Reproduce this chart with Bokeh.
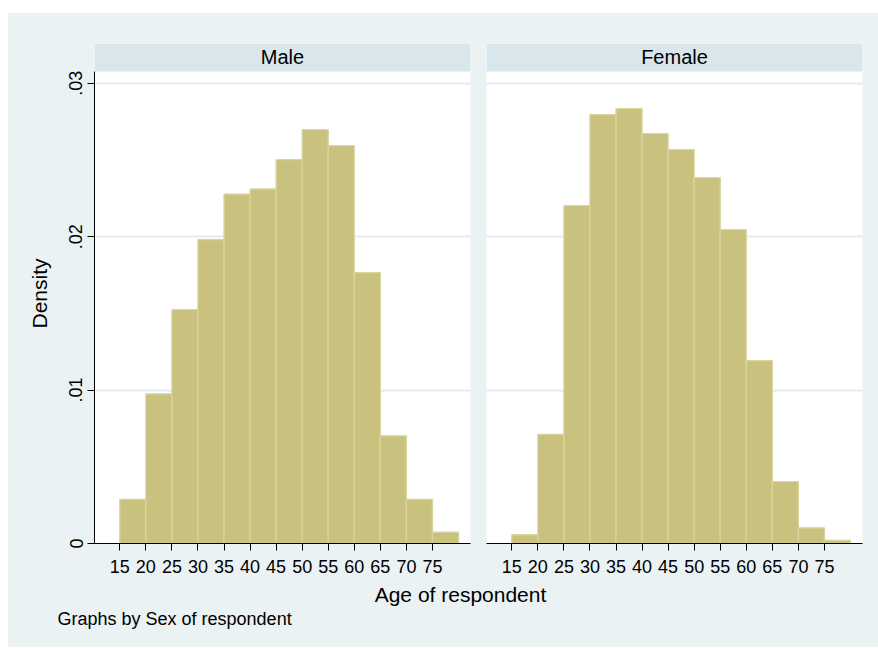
from bokeh.plotting import figure
from bokeh.models import FixedTicker, Range1d, BoxAnnotation, Label, Grid
from bokeh.layouts import row, column
from bokeh.embed import file_html
from bokeh.resources import INLINE

# ---- data ----
bin_left = [15, 20, 25, 30, 35, 40, 45, 50, 55, 60, 65, 70, 75]
bin_right = [20, 25, 30, 35, 40, 45, 50, 55, 60, 65, 70, 75, 80]
male_density = [0.00287, 0.00976, 0.01524, 0.01981, 0.02278, 0.02311, 0.02502,
                 0.02698, 0.02594, 0.01766, 0.00702, 0.00287, 0.00074]
female_density = [0.00057, 0.00711, 0.02202, 0.02796, 0.02835, 0.02672, 0.02568,
                  0.02385, 0.02046, 0.01192, 0.00404, 0.00102, 0.00020]
x_ticks = [15, 20, 25, 30, 35, 40, 45, 50, 55, 60, 65, 70, 75]
y_ticks = [0, 0.01, 0.02, 0.03]
y_tick_labels = {0: "0", 0.01: ".01", 0.02: ".02", 0.03: ".03"}
panel_names = ["Male", "Female"]

# ---- style ----
FONT = "Liberation Sans"
BG = "#eaf2f3"
STRIP = "#d9e6eb"
GRID = "#e3ecf0"
BAR_FILL = "#c9c27e"
BAR_LINE = "#d9d49e"

X0, X1 = 10.15, 82.3
Y_TOP = 0.032595
STRIP_BOTTOM = 0.03077


def panel(name, dens, width, b_left, b_right, show_y):
    p = figure(width=width, height=565, title=None,
               x_range=Range1d(X0, X1), y_range=Range1d(0, Y_TOP),
               output_backend="svg", toolbar_location=None,
               min_border_left=b_left, min_border_right=b_right,
               min_border_top=30, min_border_bottom=35,
               y_axis_location="left" if show_y else None,
               background_fill_color="white", border_fill_color=BG,
               outline_line_color=None, styles={"background-color": BG})
    p.xgrid.visible = False
    p.ygrid.visible = False
    p.add_layout(Grid(dimension=1, ticker=FixedTicker(ticks=y_ticks),
                      grid_line_color=GRID, grid_line_width=2))

    p.quad(left=bin_left, right=bin_right, bottom=0, top=dens,
           fill_color=BAR_FILL, line_color=BAR_LINE, line_width=1.3)

    # strip
    p.add_layout(BoxAnnotation(bottom=STRIP_BOTTOM, fill_color=STRIP,
                               fill_alpha=1, line_color=None))
    p.add_layout(Label(x=(X0 + X1) / 2, y=(STRIP_BOTTOM + Y_TOP) / 2, text=name,
                       text_align="center", text_baseline="middle",
                       text_font=FONT, text_font_size="20px", text_color="black"))

    xa = p.xaxis[0]
    xa.ticker = FixedTicker(ticks=x_ticks)
    xa.axis_line_color = "black"
    xa.major_tick_line_color = "black"
    xa.major_tick_out = 7
    xa.major_tick_in = 0
    xa.minor_tick_line_color = None
    xa.major_label_text_font = FONT
    xa.major_label_text_font_size = "18px"
    xa.major_label_text_color = "black"
    xa.major_label_standoff = 9

    if show_y:
        ya = p.yaxis[0]
        ya.ticker = FixedTicker(ticks=y_ticks)
        ya.major_label_overrides = y_tick_labels
        ya.bounds = (0, STRIP_BOTTOM)
        ya.axis_line_color = "black"
        ya.major_tick_line_color = "black"
        ya.major_tick_out = 7
        ya.major_tick_in = 0
        ya.minor_tick_line_color = None
        ya.major_label_orientation = "vertical"
        ya.major_label_text_font = FONT
        ya.major_label_text_font_size = "18px"
        ya.major_label_text_color = "black"
        ya.major_label_standoff = 5
        ya.axis_label = "Density"
        ya.axis_label_text_font = FONT
        ya.axis_label_text_font_size = "21px"
        ya.axis_label_text_font_style = "normal"
        ya.axis_label_text_color = "black"
        ya.axis_label_standoff = 16
    return p


pm = panel(panel_names[0], male_density, 470, 86, 8, True)
pf = panel(panel_names[1], female_density, 400, 8, 16, False)

pb = figure(width=870, height=69, title=None,
            x_range=Range1d(0, 870), y_range=Range1d(0, 69),
            output_backend="svg", toolbar_location=None,
            x_axis_location=None, y_axis_location=None,
            min_border=0, min_border_left=0, min_border_right=0,
            min_border_top=0, min_border_bottom=0,
            background_fill_color=BG, border_fill_color=BG, outline_line_color=None,
            styles={"background-color": BG})
pb.xgrid.visible = False
pb.ygrid.visible = False
pb.add_layout(Label(x=452, y=53.3, text="Age of respondent", text_align="center",
                    text_baseline="alphabetic", text_font=FONT,
                    text_font_size="21px", text_color="black"))
pb.add_layout(Label(x=49, y=29, text="Graphs by Sex of respondent", text_align="left",
                    text_baseline="alphabetic", text_font=FONT,
                    text_font_size="18px", text_color="black"))

top = row(pm, pf, spacing=0, styles={"background-color": BG})
layout = column(top, pb, spacing=0, margin=(13, 0, 0, 8),
                styles={"background-color": BG})

open("out.html", "w").write(file_html(layout, INLINE))
